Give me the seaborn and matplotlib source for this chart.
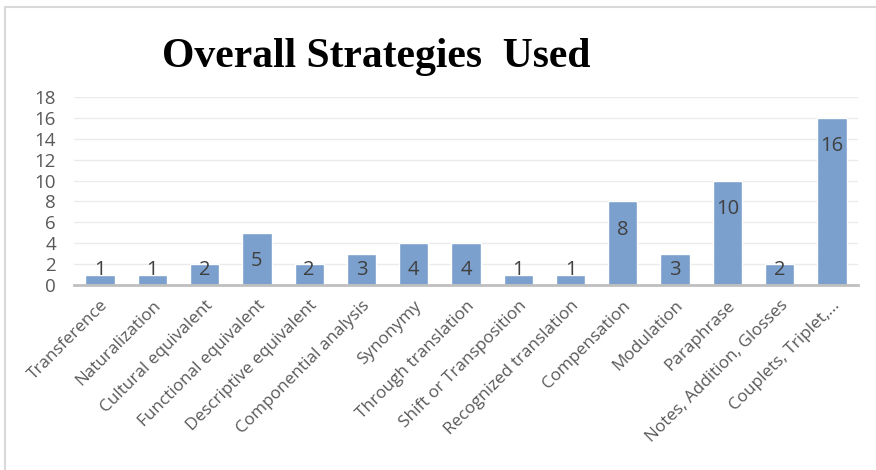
import matplotlib
matplotlib.use("Agg")
import matplotlib.pyplot as plt
import seaborn as sns
import pandas as pd
from matplotlib.lines import Line2D

## dados do gráfico
estrategias = ['Transference', 'Naturalization', 'Cultural equivalent', 'Functional equivalent',
               'Descriptive equivalent', 'Componential analysis', 'Synonymy', 'Through translation',
               'Shift or Transposition', 'Recognized translation', 'Compensation', 'Modulation',
               'Paraphrase', 'Notes, Addition, Glosses', 'Couplets, Triplet,...']
contagens = [1, 1, 2, 5, 2, 3, 4, 4, 1, 1, 8, 3, 10, 2, 16]

df = pd.DataFrame({'estrategia': estrategias, 'n': contagens})

sns.set_style('white')
plt.rcParams['font.family'] = ['Open Sans', 'DejaVu Sans']

fig = plt.figure(figsize=(8.76, 4.70), dpi=100)
ax = fig.add_axes([74 / 876, 1 - 285 / 470, 784 / 876, 188 / 470])

sns.barplot(data=df, x='estrategia', y='n', color='#7ba0cd', saturation=1,
            width=0.56, ax=ax, zorder=3)

ax.set_ylim(0, 18)
ax.set_yticks(range(0, 19, 2))
ax.grid(axis='y', color='#ebebeb', linewidth=1, zorder=0)
ax.tick_params(axis='both', length=0)
ax.tick_params(axis='y', labelsize=13.5, labelcolor='#595959', pad=13)
ax.set_xticks(range(len(estrategias)))
ax.set_xticklabels(estrategias, rotation=45, ha='right', rotation_mode='anchor',
                   fontsize=12.3, color='#595959')
ax.tick_params(axis='x', pad=9)
ax.set_xlabel('')
ax.set_ylabel('')
for lado in ['top', 'right', 'left']:
    ax.spines[lado].set_visible(False)
ax.spines['bottom'].set_color('#bfbfbf')
ax.spines['bottom'].set_linewidth(2)
ax.spines['bottom'].set_zorder(4)

# rótulos de valor dentro das barras
for i, v in enumerate(contagens):
    ax.text(i, max(v - 2.7, 1.4), str(v), ha='center', va='center',
            fontsize=14.5, color='#404040', zorder=5)

fig.text(376 / 876, 1 - 57 / 470, 'Overall Strategies  Used', ha='center', va='center',
         fontsize=30, fontweight='bold', family='Liberation Serif', color='black')

# moldura do gráfico
cor_borda = '#d9d9d9'
fig.add_artist(Line2D([5 / 876, 5 / 876], [0, 1 - 7 / 470], transform=fig.transFigure,
                      color=cor_borda, linewidth=1.5))
fig.add_artist(Line2D([5 / 876, 1], [1 - 7 / 470, 1 - 7 / 470],
                      transform=fig.transFigure, color=cor_borda, linewidth=1.5))

plt.savefig('out.png', dpi=100)
